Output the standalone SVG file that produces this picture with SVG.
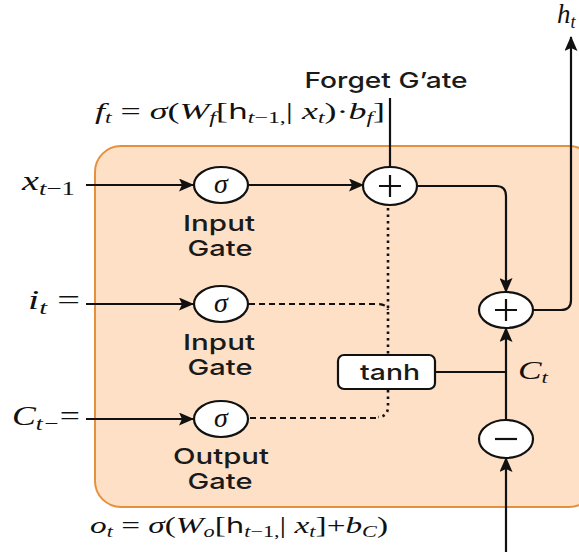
<svg xmlns="http://www.w3.org/2000/svg" width="579" height="552" viewBox="0 0 579 552">
<style>
.m{font-family:"Liberation Serif","DejaVu Serif",serif;font-style:italic;fill:#111}
.r{font-style:normal}
.s{font-size:16px}
.lbl{font-family:Inter,"Liberation Sans",sans-serif;font-weight:500;font-size:22px;fill:#1a1a1a;text-anchor:middle}
.ln{fill:none;stroke:#111;stroke-width:2.2}
.dot{fill:none;stroke:#111;stroke-width:2.6;stroke-dasharray:2.5 4}
.dash{fill:none;stroke:#111;stroke-width:2.2;stroke-dasharray:6 4}
.op{fill:#fff;stroke:#111;stroke-width:2.2}
</style>
<defs>
<marker id="ah" markerWidth="15" markerHeight="13" refX="14" refY="6.5" orient="auto" markerUnits="userSpaceOnUse">
<path d="M0,0 L15,6.5 L0,13 L3,6.5 Z" fill="#111"/>
</marker>
</defs>
<rect id="cell" x="95" y="146" width="500" height="361" rx="26" fill="#fde0c6" stroke="#e5913c" stroke-width="2"/>

<g id="connectors">
<path class="ln" d="M86,185 H193" marker-end="url(#ah)"/>
<path class="ln" d="M86,304 H193" marker-end="url(#ah)"/>
<path class="ln" d="M86,419 H193" marker-end="url(#ah)"/>
<path class="ln" d="M248,185 H363" marker-end="url(#ah)"/>
<path class="ln" d="M390,98 V167"/>
<path class="ln" d="M417,186 H496 Q506,186 506,196 V292" marker-end="url(#ah)"/>
<path class="ln" d="M506,420 V328" marker-end="url(#ah)"/>
<path class="ln" d="M533,310 H561 Q571,310 571,300 V37" marker-end="url(#ah)"/>
<path class="ln" d="M506,552 V458" marker-end="url(#ah)"/>
<path class="ln" d="M435,372 H506"/>
<path class="dot" d="M388,208 V355"/>
<path class="dash" d="M249,304 H378 Q386,304 388,310"/>
<path class="dot" d="M388,390 V408 Q387,417 378,417"/>
<path class="dash" d="M376,418 H249"/>
</g>

<g id="sigma-input">
<ellipse class="op" cx="221" cy="185" rx="27" ry="18"/>
<text class="m" x="221" y="193" font-size="28" text-anchor="middle">σ</text>
<text class="lbl" x="219" y="231" textLength="72" lengthAdjust="spacingAndGlyphs">Input</text>
<text class="lbl" x="220" y="256" textLength="65" lengthAdjust="spacingAndGlyphs">Gate</text>
</g>
<g id="sigma-input2">
<ellipse class="op" cx="221" cy="304" rx="27" ry="18"/>
<text class="m" x="221" y="312" font-size="28" text-anchor="middle">σ</text>
<text class="lbl" x="219" y="350" textLength="72" lengthAdjust="spacingAndGlyphs">Input</text>
<text class="lbl" x="220" y="375" textLength="65" lengthAdjust="spacingAndGlyphs">Gate</text>
</g>
<g id="sigma-output">
<ellipse class="op" cx="221" cy="419" rx="27" ry="18"/>
<text class="m" x="221" y="427" font-size="28" text-anchor="middle">σ</text>
<text class="lbl" x="221" y="464" textLength="96" lengthAdjust="spacingAndGlyphs">Output</text>
<text class="lbl" x="220" y="489" textLength="65" lengthAdjust="spacingAndGlyphs">Gate</text>
</g>
<g id="plus-forget">
<ellipse class="op" cx="390" cy="186" rx="27" ry="19"/>
<path class="ln" d="M379,186 H401 M390,175 V197"/>
</g>
<g id="plus-cell">
<ellipse class="op" cx="506" cy="310" rx="27" ry="18"/>
<path class="ln" d="M495,310 H517 M506,299 V321"/>
</g>
<g id="minus">
<ellipse class="op" cx="506" cy="439" rx="27" ry="19"/>
<path class="ln" d="M495,439 H517"/>
</g>
<g id="tanh">
<rect x="338" y="355" width="97" height="34" rx="6" fill="#fff" stroke="#111" stroke-width="2.2"/>
<text class="lbl" x="390" y="380" font-size="22" textLength="60" lengthAdjust="spacingAndGlyphs">tanh</text>
</g>

<g id="labels">
<text class="lbl" x="386" y="88" font-size="23" textLength="163" lengthAdjust="spacingAndGlyphs">Forget G’ate</text>
<text class="m" x="95" y="119" font-size="24" textLength="290" lengthAdjust="spacingAndGlyphs">f<tspan class="s" dy="4">t</tspan><tspan class="r" dy="-4"> = </tspan>σ<tspan class="r">(</tspan>W<tspan class="s" dy="4">f</tspan><tspan class="r" dy="-4">[</tspan><tspan class="r" font-family="DejaVu Sans" font-size="21">h</tspan><tspan class="s" dy="4">t</tspan><tspan class="s r">−1,</tspan><tspan class="r" dy="-4">| </tspan>x<tspan class="s" dy="4">t</tspan><tspan class="r" dy="-4">)·</tspan>b<tspan class="s" dy="4">f</tspan><tspan class="r" dy="-4">]</tspan></text>
<text class="m" x="90" y="533" font-size="24" textLength="298" lengthAdjust="spacingAndGlyphs">o<tspan class="s" dy="4">t</tspan><tspan class="r" dy="-4"> = </tspan>σ<tspan class="r">(</tspan>W<tspan class="s" dy="4">o</tspan><tspan class="r" dy="-4">[</tspan><tspan class="r" font-family="DejaVu Sans" font-size="21">h</tspan><tspan class="s" dy="4">t</tspan><tspan class="s r">−1,</tspan><tspan class="r" dy="-4">| </tspan>x<tspan class="s" dy="4">t</tspan><tspan class="r" dy="-4">]+</tspan>b<tspan class="s" dy="4">C</tspan><tspan class="r" dy="-4">)</tspan></text>
<text class="m" x="22" y="190" font-size="27" textLength="53" lengthAdjust="spacingAndGlyphs">x<tspan font-size="19" dy="5">t</tspan><tspan class="r" font-size="19">−1</tspan></text>
<text class="m" x="28" y="309" font-size="27" textLength="52" lengthAdjust="spacingAndGlyphs">i<tspan font-size="19" dy="5">t</tspan><tspan class="r" dy="-5"> =</tspan></text>
<text class="m" x="12" y="425" font-size="27" textLength="68" lengthAdjust="spacingAndGlyphs">C<tspan font-size="19" dy="5">t−</tspan><tspan class="r" dy="-5">=</tspan></text>
<text class="m" x="518" y="379" font-size="26" textLength="30" lengthAdjust="spacingAndGlyphs">C<tspan font-size="17" dy="4">t</tspan></text>
<text class="m" x="557" y="23" font-size="27">h<tspan font-size="18" dy="5">t</tspan></text>
</g>
</svg>
